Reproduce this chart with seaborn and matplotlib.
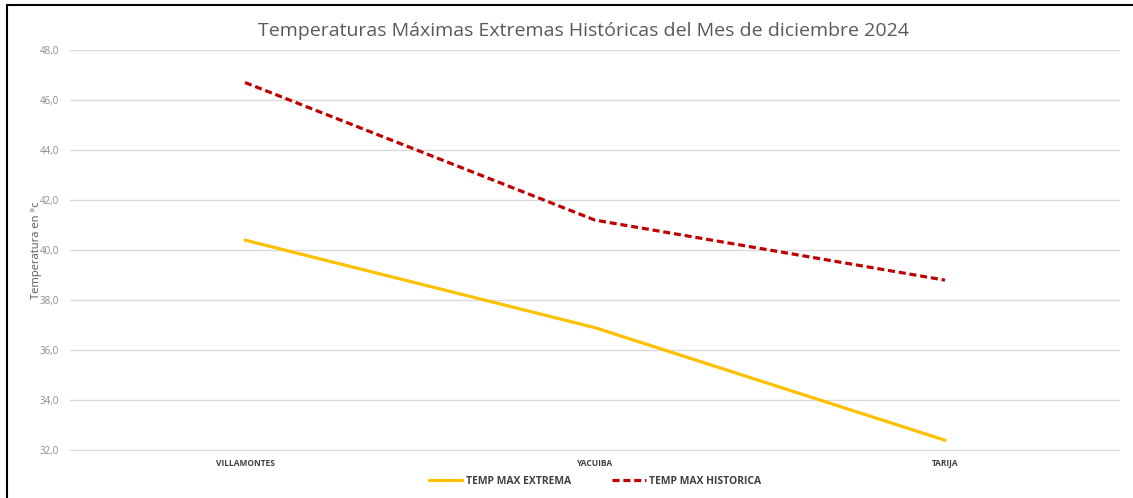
import matplotlib
matplotlib.use("Agg")
import matplotlib.pyplot as plt
import pandas as pd
import seaborn as sns

# DATOS
estaciones = ["VILLAMONTES", "YACUIBA", "TARIJA"]
temp_max_extrema = [40.4, 36.9, 32.4]
temp_max_historica = [46.7, 41.2, 38.8]
y_ticks = [32, 34, 36, 38, 40, 42, 44, 46, 48]

df = pd.DataFrame({
    "estacion": estaciones * 2,
    "temp": temp_max_extrema + temp_max_historica,
    "serie": ["TEMP MAX EXTREMA"] * 3 + ["TEMP MAX HISTORICA"] * 3,
})

sns.set_style("white")
plt.rcParams["font.family"] = ["Open Sans", "DejaVu Sans"]

fig = plt.figure(figsize=(11.33, 4.98), dpi=100)
ax = fig.add_axes([0.0618, 0.0944, 0.9267, 0.8052])

sns.lineplot(data=df, x="estacion", y="temp", hue="serie", style="serie",
             palette={"TEMP MAX EXTREMA": "#FFC000", "TEMP MAX HISTORICA": "#C00000"},
             dashes={"TEMP MAX EXTREMA": "", "TEMP MAX HISTORICA": (2.2, 1.2)},
             linewidth=2.3, sort=False, ax=ax, legend=True)

ax.set_xlim(-0.5, 2.5)
ax.set_ylim(31.97, 48)
ax.set_yticks(y_ticks)
ax.set_yticklabels([f"{v:.1f}".replace(".", ",") for v in y_ticks],
                   fontsize=7, color="#8c8c8c")
ax.tick_params(axis="y", length=0, pad=8)
ax.tick_params(axis="x", length=0, pad=6)
for lbl in ax.get_xticklabels():
    lbl.set_fontsize(6)
    lbl.set_color("#404040")
    lbl.set_fontweight("bold")
ax.grid(axis="y", color="#d9d9d9", linewidth=1)
for s in ax.spines.values():
    s.set_visible(False)
ax.set_xlabel("")
ax.set_ylabel("Temperatura en °c", fontsize=8, color="#595959", labelpad=-1.5)

ax.set_title("Temperaturas Máximas Extremas Históricas del Mes de diciembre 2024",
             fontsize=14, color="#595959", pad=10, x=0.489)

leg = ax.legend(loc="center", bbox_to_anchor=(0.5, -0.075), ncol=2,
                frameon=False, fontsize=7.5, handlelength=3.2, columnspacing=4,
                handletextpad=0.3)
for t in leg.get_texts():
    t.set_color("#404040")
    t.set_fontweight("bold")

# marco del grafico (arriba e izquierda)
fig.add_artist(plt.Line2D([7 / 1133, 7 / 1133], [0, 1 - 5 / 498],
                          transform=fig.transFigure, color="black", linewidth=1.5))
fig.add_artist(plt.Line2D([7 / 1133, 1], [1 - 5 / 498, 1 - 5 / 498],
                          transform=fig.transFigure, color="black", linewidth=1.5))

fig.savefig("out.png", dpi=100)
